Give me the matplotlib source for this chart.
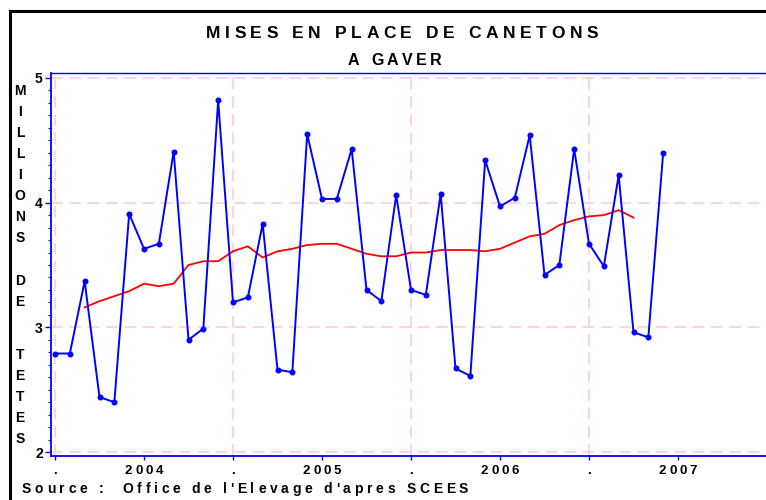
import matplotlib
matplotlib.use("Agg")
import matplotlib.pyplot as plt
from matplotlib.font_manager import FontProperties
from matplotlib.lines import Line2D
import numpy as np

# ---------------- data ----------------
# monthly values, month 0 = January 2004
mises = [2.79, 2.79, 3.37, 2.44, 2.40, 3.91, 3.63, 3.67, 4.41, 2.90, 2.99, 4.82,
         3.20, 3.24, 3.83, 2.66, 2.64, 4.55, 4.03, 4.03, 4.43, 3.30, 3.21, 4.06,
         3.30, 3.26, 4.07, 2.67, 2.61, 4.34, 3.97, 4.04, 4.54, 3.42, 3.50, 4.43,
         3.67, 3.49, 4.22, 2.96, 2.92, 4.40]
moyenne_start = 2
moyenne = [3.16, 3.21, 3.25, 3.29, 3.35, 3.33, 3.35, 3.50, 3.53, 3.53,
           3.61, 3.65, 3.56, 3.61, 3.63, 3.66, 3.67, 3.67, 3.63, 3.59,
           3.57, 3.57, 3.60, 3.60, 3.62, 3.62, 3.62, 3.61, 3.63, 3.68,
           3.73, 3.75, 3.82, 3.86, 3.89, 3.90, 3.94, 3.88]
xtick_pos = [0, 6, 12, 18, 24, 30, 36, 42]
xtick_labels = [".", "2004", ".", "2005", ".", "2006", ".", "2007"]
ytick_pos = [2, 3, 4, 5]
title1 = "MISES EN PLACE DE CANETONS"
title2 = "A GAVER"
ylabel_words = ["MILLIONS", "DE", "TETES"]
source = "Source :  Office de l'Elevage d'apres SCEES"

W, H = 766, 500
fig = plt.figure(figsize=(W / 100, H / 100), dpi=100)
fig.patch.set_facecolor("white")

# axes placement in pixels
L, T, B, R = 51, 73, 456, 766
ax = fig.add_axes([L / W, 1 - B / H, (R - L) / W, (B - T) / H])
px_per_month = 89 / 6
ax.set_xlim((L - 55) / px_per_month, (R - 55) / px_per_month)
ax.set_ylim(2 - 4 / 124.7, 5 + 5 / 124.7)

blue = "#0000ff"
red = "#ff0000"
pink = "#ffcdd6"

# grid
for yv in ytick_pos:
    ax.axhline(yv, color=pink, lw=1.2, dashes=(7, 4), zorder=1)
for xv in [0, 12, 24, 36]:
    ax.axvline(xv, color=pink, lw=1.2, dashes=(7, 4), zorder=1)

x = np.arange(len(mises))
ax.plot(x, mises, color=blue, lw=1.4, marker="o", ms=3.3, zorder=3)
xm = np.arange(moyenne_start, moyenne_start + len(moyenne))
ax.plot(xm, moyenne, color=red, lw=1.3, zorder=2)

# spines
for s in ["left", "bottom", "top"]:
    ax.spines[s].set_color(blue)
ax.spines["left"].set_linewidth(1.3)
ax.spines["bottom"].set_linewidth(1.3)
ax.spines["top"].set_linewidth(1.0)
ax.spines["right"].set_visible(False)

ax.set_yticks(ytick_pos)
ax.set_yticks(np.arange(2.0, 5.01, 0.1), minor=True)
ax.tick_params(axis="y", which="major", direction="out", length=4, width=1, color=blue,
               labelsize=10, pad=2)
ax.tick_params(axis="y", which="minor", direction="out", length=2.5, width=0.8, color=blue)
for lab in ax.get_yticklabels():
    lab.set_fontweight("bold")
    lab.set_fontfamily("Liberation Sans")

ax.set_xticks(xtick_pos)
ax.set_xticklabels([""] * len(xtick_pos))
ax.tick_params(axis="x", which="major", direction="out", length=3, width=1, color=blue)

renderer = fig.canvas.get_renderer()


def adv(c, prop):
    w1, _, _ = renderer.get_text_width_height_descent("X" + c + "X", prop, ismath=False)
    w2, _, _ = renderer.get_text_width_height_descent("XX", prop, ismath=False)
    return w1 - w2


def spaced(xpx, ypx, s, size, spacing, ha="left"):
    prop = FontProperties(family="Liberation Sans", weight="bold", size=size)
    widths = [adv(c, prop) for c in s]
    total = sum(widths) + spacing * (len(s) - 1)
    xx = xpx - total / 2 if ha == "center" else xpx
    for c, w in zip(s, widths):
        if c != " ":
            fig.text(xx / W, 1 - ypx / H, c, fontproperties=prop, va="baseline", ha="left",
                     color="black")
        xx += w + spacing


# titles
spaced(402, 38.5, title1, 12.5, 4.6, ha="center")
spaced(395, 65, title2, 11.5, 3.5, ha="center")

# x tick labels
for pos, lab in zip(xtick_pos, xtick_labels):
    xp = ax.transData.transform((pos, 0))[0]
    spaced(xp, 474, lab, 9.5, 3.0, ha="center")

# vertical y label
ylab_prop = FontProperties(family="Liberation Sans", weight="bold", size=10)
starts = [91, 281, 355]
for word, y0 in zip(ylabel_words, starts):
    for i, c in enumerate(word):
        fig.text(20 / W, 1 - (y0 + 21 * i) / H, c, fontproperties=ylab_prop,
                 ha="center", va="center")

# source line
spaced(22, 493, source, 10, 3.7)

# figure frame
fig.add_artist(Line2D([10 / W, 10 / W], [0, 1 - 11 / H], transform=fig.transFigure,
                      color="black", lw=2.2))
fig.add_artist(Line2D([10 / W, 1], [1 - 11 / H, 1 - 11 / H], transform=fig.transFigure,
                      color="black", lw=2.2))

fig.savefig("out.png", dpi=100)
